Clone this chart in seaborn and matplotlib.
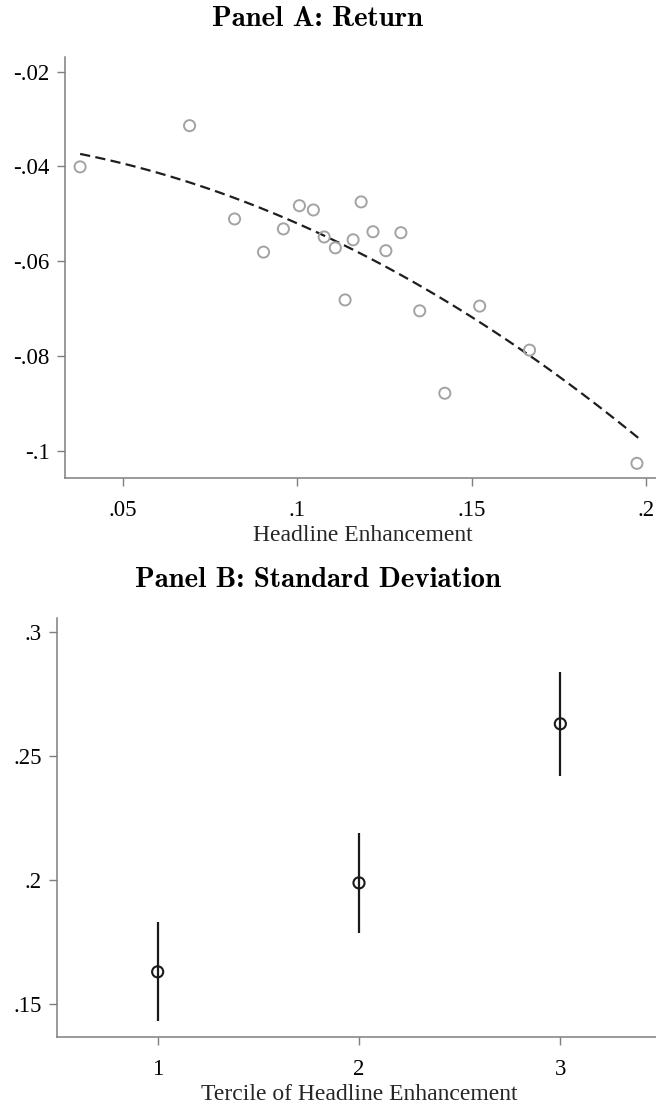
import numpy as np
import pandas as pd
import matplotlib
matplotlib.use("Agg")
import matplotlib.pyplot as plt
import seaborn as sns

# Panel A: binned headline enhancement vs. return (20 bins)
enhancement = [0.0377, 0.0691, 0.0820, 0.0903, 0.0960, 0.1006, 0.1046, 0.1077,
               0.1109, 0.1137, 0.1160, 0.1183, 0.1217, 0.1254, 0.1297, 0.1351,
               0.1423, 0.1523, 0.1666, 0.1974]
ret = [-0.0401, -0.0314, -0.0511, -0.0581, -0.0532, -0.0483, -0.0492, -0.0549,
       -0.0572, -0.0682, -0.0555, -0.0475, -0.0538, -0.0578, -0.0540, -0.0705,
       -0.0879, -0.0695, -0.0788, -0.1027]

# Quadratic fit of return on headline enhancement, sampled along the x range
fit_x = [0.0377, 0.0511, 0.0702, 0.0893, 0.1084, 0.1314, 0.1505, 0.1696, 0.1887, 0.1978]
fit_y = [-0.0374, -0.0393, -0.0439, -0.0488, -0.0548, -0.0640, -0.0721, -0.0809,
         -0.0914, -0.0981]

# Panel B: standard deviation by tercile with confidence intervals
tercile = [1, 2, 3]
sd_mean = [0.1629, 0.1988, 0.2630]
sd_low = [0.1430, 0.1787, 0.2421]
sd_high = [0.1829, 0.2189, 0.2839]

# Axis ticks and labels
a_xticks = [0.05, 0.10, 0.15, 0.20]
a_xticklabels = [".05", ".1", ".15", ".2"]
a_yticks = [-0.02, -0.04, -0.06, -0.08, -0.10]
a_yticklabels = ["-.02", "-.04", "-.06", "-.08", "-.1"]
b_xticks = [1, 2, 3]
b_xticklabels = ["1", "2", "3"]
b_yticks = [0.15, 0.20, 0.25, 0.30]
b_yticklabels = [".15", ".2", ".25", ".3"]

sns.set_style("ticks")
plt.rcParams["font.family"] = ["Liberation Serif", "DejaVu Serif"]

W, H = 656, 1106
fig = plt.figure(figsize=(W / 100, H / 100), dpi=100)
fig.patch.set_facecolor("white")


def px_axes(left, top, right, bottom):
    return fig.add_axes([left / W, 1 - bottom / H, (right - left) / W, (bottom - top) / H])


axis_gray = "#7f7f7f"
tick_fs = 16.5
label_fs = 17
title_kw = dict(family="cmb10", fontsize=20.8, ha="center", va="baseline", color="black")


def style_axes(ax):
    for s in ["top", "right"]:
        ax.spines[s].set_visible(False)
    for s in ["left", "bottom"]:
        ax.spines[s].set_color(axis_gray)
        ax.spines[s].set_linewidth(1.1)
    ax.tick_params(axis="both", direction="out", length=6, width=1.0, color=axis_gray,
                   labelsize=tick_fs, labelcolor="black")
    ax.tick_params(axis="y", pad=5)
    ax.tick_params(axis="x", pad=9.5)
    ax.set_facecolor("white")
    ax.grid(False)


# ---- Panel A ----
axA = px_axes(65, 57, 661, 478)
dfA = pd.DataFrame({"enh": enhancement, "ret": ret})
dfFit = pd.DataFrame({"enh": fit_x, "ret": fit_y})
sns.scatterplot(data=dfA, x="enh", y="ret", ax=axA, marker="o", s=64,
                facecolors="none", edgecolor="#a3a3a3", linewidth=1.4, zorder=3)
sns.regplot(data=dfFit, x="enh", y="ret", ax=axA, order=2, ci=None, scatter=False,
            truncate=True,
            line_kws=dict(color="#1e1e1e", linewidth=1.6, dashes=(4.6, 2.4), zorder=2))
axA.set_xlim(0.03337, 0.2043)
axA.set_ylim(-0.1058, -0.0169)
axA.set_xticks(a_xticks)
axA.set_xticklabels(a_xticklabels)
axA.set_yticks(a_yticks)
axA.set_yticklabels(a_yticklabels)
style_axes(axA)
axA.set_xlabel("Headline Enhancement", fontsize=label_fs, labelpad=3)
axA.set_ylabel("")
fig.text(318 / W, 1 - 26 / H, "Panel A: Return", **title_kw)

# ---- Panel B ----
axB = px_axes(57, 618, 661, 1037)
dfB = pd.DataFrame({"tercile": tercile, "sd": sd_mean, "lo": sd_low, "hi": sd_high})
axB.vlines(dfB["tercile"], dfB["lo"], dfB["hi"], color="#1a1a1a", linewidth=1.6, zorder=2)
sns.scatterplot(data=dfB, x="tercile", y="sd", ax=axB, marker="o", s=64,
                facecolors="none", edgecolor="#1a1a1a", linewidth=1.5, zorder=3)
axB.set_xlim(0.5, 3.5)
axB.set_ylim(0.1366, 0.3057)
axB.set_xticks(b_xticks)
axB.set_xticklabels(b_xticklabels)
axB.set_yticks(b_yticks)
axB.set_yticklabels(b_yticklabels)
style_axes(axB)
axB.set_xlabel("Tercile of Headline Enhancement", fontsize=label_fs, labelpad=3)
axB.set_ylabel("")
fig.text(318 / W, 1 - 587 / H, "Panel B: Standard Deviation", **title_kw)

fig.savefig("out.png", dpi=100, facecolor="white")
